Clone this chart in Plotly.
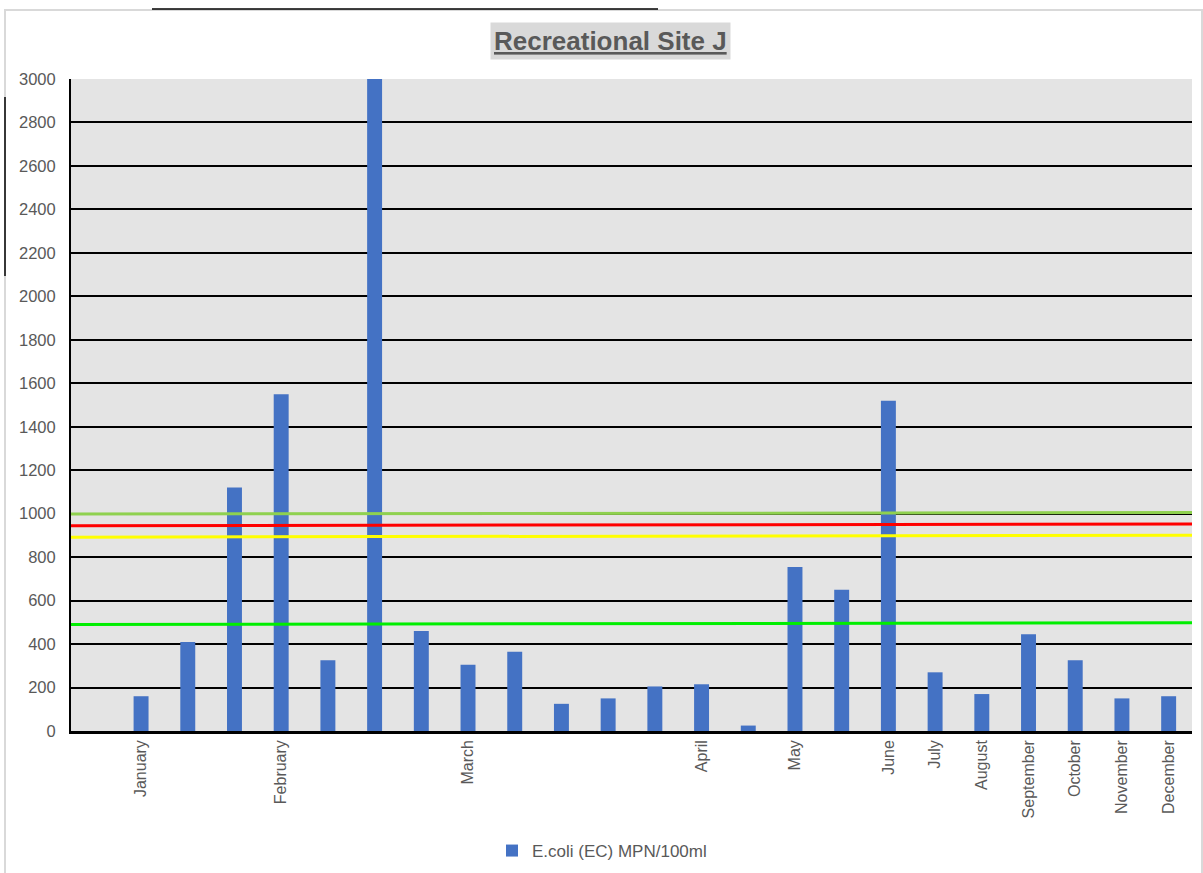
import plotly.graph_objects as go

# Sampling slots (first slot has no sample); month names mark the first sample of each month
sample_slots = list(range(24))
ecoli_mpn = [None, 160, 410, 1120, 1550, 325, 3000, 460, 305, 365, 125, 150,
             205, 215, 25, 755, 650, 1520, 270, 170, 445, 325, 150, 160]
month_ticks = [1, 4, 8, 13, 15, 17, 18, 19, 20, 21, 22, 23]
month_names = ["January", "February", "March", "April", "May", "June", "July",
               "August", "September", "October", "November", "December"]

# Guideline lines: value at the left edge and at the right edge of the plot
guide_start = [998, 944, 892, 490]
guide_end = [1005, 953, 901, 498]
guide_colors = ["#8fd14f", "#ff0000", "#ffff00", "#00ee00"]

FONT = "Liberation Sans, Arial, sans-serif"
GREY = "#595959"

W, H = 1203, 873
L, R, T, B = 71, 11, 79, 142


def px(x):
    return (x - L) / (W - L - R)


def py(y):
    return (H - B - y) / (H - T - B)


fig = go.Figure()

fig.add_trace(go.Bar(
    x=sample_slots, y=ecoli_mpn, name="E.coli (EC) MPN/100ml",
    marker=dict(color="#4472c4", line=dict(width=0)), width=0.32,
))

x_edges = [sample_slots[0] - 0.5, sample_slots[-1] + 0.5]
for s, e, c in zip(guide_start, guide_end, guide_colors):
    fig.add_trace(go.Scatter(
        x=x_edges, y=[s, e], mode="lines", line=dict(color=c, width=3),
        showlegend=False, hoverinfo="skip",
    ))

fig.update_layout(
    width=W, height=H,
    margin=dict(l=L, r=R, t=T, b=B, autoexpand=False),
    paper_bgcolor="white", plot_bgcolor="#e4e4e4",
    font=dict(family=FONT, color=GREY, size=16),
    showlegend=True,
    legend=dict(orientation="h", x=px(602), xanchor="center", y=py(851), yanchor="middle",
                font=dict(size=17, color=GREY), bgcolor="rgba(0,0,0,0)"),
    xaxis=dict(range=x_edges, tickmode="array", tickvals=month_ticks, ticktext=month_names,
               tickangle=-90, showgrid=False, zeroline=False, automargin=False,
               showline=True, linecolor="black", linewidth=2.5,
               ticks="", tickfont=dict(size=16, color=GREY)),
    yaxis=dict(range=[0, 3000], dtick=200, showgrid=True, gridcolor="black", gridwidth=1.6,
               zeroline=False, showline=True, linecolor="black", linewidth=2, automargin=False,
               ticks="", ticklabelstandoff=10, tickfont=dict(size=16.5, color=GREY)),
    bargap=0.68,
)

fig.add_annotation(
    text="<b><u>Recreational Site J</u></b>", xref="paper", yref="paper",
    x=px(610), y=py(41), xanchor="center", yanchor="middle", showarrow=False,
    font=dict(size=26, color=GREY, family=FONT), bgcolor="#d9d9d9", borderpad=3,
)

# Chart frame and stray edge strokes
fig.add_shape(type="rect", xref="paper", yref="paper",
              x0=px(5), x1=px(1202), y0=py(10), y1=py(876),
              line=dict(color="#d9d9d9", width=2), layer="below")
fig.add_shape(type="line", xref="paper", yref="paper",
              x0=px(152), x1=px(658), y0=py(9), y1=py(9),
              line=dict(color="black", width=1.5))
fig.add_shape(type="line", xref="paper", yref="paper",
              x0=px(5), x1=px(5), y0=py(97), y1=py(276),
              line=dict(color="black", width=1.5))

fig.write_html("out.html")
